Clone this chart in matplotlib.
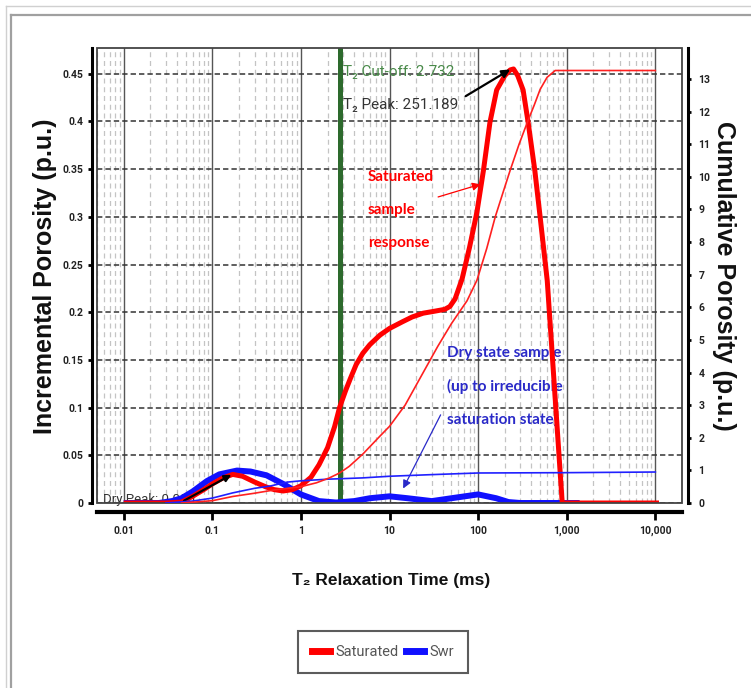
import matplotlib

matplotlib.use("Agg")
import matplotlib.pyplot as plt
from matplotlib.lines import Line2D
from matplotlib.patches import Rectangle
from matplotlib.ticker import FixedLocator, NullFormatter

# ---- data ----
sat_t = [0.01, 0.02, 0.03, 0.045, 0.06, 0.08, 0.1, 0.13, 0.17, 0.22, 0.3, 0.4,
         0.5, 0.63, 0.8, 1.0, 1.3, 1.6, 2.0, 2.4, 2.73, 3.2, 3.6, 4.2, 5, 6,
         7.8, 10, 14, 18, 24, 32, 42, 48, 55, 66, 80, 97, 115, 136, 162, 200,
         230, 251, 280, 322, 367, 436, 501, 603, 890, 1000, 10000, 11000]
sat_inc = [0.0, 0.0, 0.0, 0.001, 0.007, 0.014, 0.02, 0.026, 0.030, 0.028, 0.022,
           0.017, 0.014, 0.0126, 0.014, 0.018, 0.027, 0.040, 0.058, 0.08, 0.10,
           0.118, 0.13, 0.145, 0.157, 0.166, 0.176, 0.183, 0.19, 0.195, 0.199,
           0.201, 0.203, 0.206, 0.214, 0.235, 0.268, 0.305, 0.349, 0.399, 0.433,
           0.448, 0.454, 0.455, 0.448, 0.433, 0.399, 0.349, 0.30, 0.233, 0.0,
           0.0, 0.0, 0.0]

sat_cum_t = [0.045, 0.1, 0.17, 0.3, 0.5, 1, 1.5, 2.1, 2.73, 3.5, 5, 7.8, 10, 15,
             24, 35, 50, 75, 97, 125, 156, 190, 230, 290, 358, 430, 501, 600,
             741, 10000]
sat_cum = [0.0, 0.07, 0.2, 0.3, 0.4, 0.5, 0.62, 0.77, 0.92, 1.12, 1.5, 2.05,
           2.35, 3.0, 4.0, 4.8, 5.5, 6.2, 6.83, 7.8, 8.77, 9.5, 10.2, 11.0,
           11.66, 12.2, 12.68, 13.05, 13.26, 13.26]

swr_t = [0.01, 0.025, 0.035, 0.045, 0.06, 0.087, 0.12, 0.19, 0.27, 0.41, 0.63,
         1.0, 1.6, 2.5, 4, 6, 10, 16, 30, 50, 100, 160, 220, 300, 1400]
swr_inc = [0.0, 0.0, 0.002, 0.005, 0.012, 0.023, 0.03, 0.034, 0.033, 0.029,
           0.02, 0.009, 0.002, 0.0005, 0.002, 0.005, 0.007, 0.005, 0.002, 0.005,
           0.009, 0.005, 0.001, 0.0, 0.0]

swr_cum_t = [0.03, 0.06, 0.1, 0.17, 0.3, 0.45, 0.7, 1, 2, 5, 10, 30, 100, 1000,
             10000]
swr_cum = [0.0, 0.06, 0.15, 0.31, 0.45, 0.52, 0.64, 0.68, 0.73, 0.77, 0.82,
           0.87, 0.92, 0.93, 0.95]

t2_cutoff = 2.732
t2_peak = 251.189
x_ticks = [0.01, 0.1, 1, 10, 100, 1000, 10000]
x_labels = ["0.01", "0.1", "1", "10", "100", "1,000", "10,000"]
y_ticks = [0, 0.05, 0.1, 0.15, 0.2, 0.25, 0.3, 0.35, 0.4, 0.45]
y_labels = ["0", "0.05", "0.1", "0.15", "0.2", "0.25", "0.3", "0.35", "0.4", "0.45"]
y2_ticks = list(range(0, 14))

NARROW = ["Roboto", "DejaVu Sans"]
HUMAN = ["Lato", "DejaVu Sans"]
ARIAL = ["Liberation Sans", "DejaVu Sans"]

W, H = 751.0, 688.0
fig = plt.figure(figsize=(7.51, 6.88), dpi=100)
ax = fig.add_axes([97 / W, 1 - 503 / H, 585 / W, 455 / H])
ax.set_xscale("log")
ax.set_xlim(0.005, 20000)
ax.set_ylim(0, 0.477)

# grid
ax.xaxis.set_minor_locator(FixedLocator(
    [m * 10.0 ** e for e in range(-3, 5) for m in range(2, 10)]))
ax.xaxis.set_minor_formatter(NullFormatter())
ax.grid(which="minor", axis="x", color="#c4c4c4", lw=0.9, ls=(0, (4, 3)))
ax.grid(which="major", axis="x", color="#555555", lw=1.0, ls="-")
ax.grid(which="major", axis="y", color="#333333", lw=1.1, ls=(0, (3.5, 2)))
ax.set_axisbelow(True)

ax.add_patch(Rectangle((0, 0), 1, 1, transform=ax.transAxes, fill=False,
                       ec="#444444", lw=1.3, zorder=6, clip_on=False))

ax.axvline(t2_cutoff, color="#2d6a2d", lw=3.6, zorder=2)

ax.text(0.0058, 0.0, "Dry Peak: 0.000", fontsize=9.5, color="#333333",
        family=NARROW, va="baseline", zorder=1)

ax.plot(swr_t, swr_inc, color="#1010ff", lw=4.3, solid_capstyle="butt", zorder=3)
ax.plot(sat_t, sat_inc, color="#ff0000", lw=3.6, solid_capstyle="butt", zorder=4)

# annotations
ax.annotate("", xy=(0.175, 0.031), xytext=(0.045, 0.001),
            arrowprops=dict(arrowstyle="-|>", color="black", lw=1.6,
                            mutation_scale=10), zorder=7)
ax.text(3.0, 0.452, "T\u2082 Cut-off: 2.732", fontsize=11, color="#4a8a4a",
        family=NARROW, va="center")
ax.text(2.95, 0.417, "T\u2082 Peak: 251.189", fontsize=11, color="#333333",
        family=NARROW, va="center")
ax.annotate("", xy=(245, 0.456), xytext=(68, 0.425),
            arrowprops=dict(arrowstyle="-|>", color="black", lw=1.6,
                            mutation_scale=12), zorder=7)

for i, s in enumerate(["Saturated", "sample", "response"]):
    ax.text(5.7, 0.342 - i * 0.0345, s, fontsize=11, color="#ff0000",
            family=HUMAN, fontweight="bold", va="center")
ax.annotate("", xy=(114, 0.335), xytext=(33, 0.32),
            arrowprops=dict(arrowstyle="-|>", color="#ff0000", lw=0.9,
                            mutation_scale=12), zorder=7)

for i, s in enumerate(["Dry state sample", "(up to irreducible",
                       "saturation state)"]):
    ax.text(44.7, 0.157 - i * 0.0345, s, fontsize=11, color="#2a2ac8",
            family=HUMAN, fontweight="bold", va="center")
ax.annotate("", xy=(13.8, 0.0126), xytext=(39, 0.095),
            arrowprops=dict(arrowstyle="-|>", color="#2a2ac8", lw=0.9,
                            mutation_scale=12), zorder=7)

# axes styling
ax.spines["top"].set_visible(False)
ax.spines["right"].set_visible(False)
ax.spines["left"].set_position(("outward", 3.6))
ax.spines["left"].set_linewidth(2.2)
ax.spines["bottom"].set_position(("outward", 6.5))
ax.spines["bottom"].set_linewidth(3.0)
ax.set_xticks(x_ticks)
ax.set_xticklabels(x_labels)
ax.set_yticks(y_ticks)
ax.set_yticklabels(y_labels)
ax.tick_params(axis="x", which="major", length=6, width=2, pad=4)
ax.tick_params(axis="x", which="minor", length=0)
ax.tick_params(axis="y", length=3, width=2, pad=3)
for lab in ax.get_xticklabels() + ax.get_yticklabels():
    lab.set_family(NARROW)
    lab.set_fontweight("bold")
    lab.set_fontsize(7.5)
    lab.set_color("#222222")

ax2 = ax.twinx()
ax2.set_ylim(0, 13.95)
ax2.plot(swr_cum_t, swr_cum, color="#2020ff", lw=1.2, zorder=3)
ax2.plot(sat_cum_t, sat_cum, color="#ff2020", lw=1.2, zorder=3)
for sp in ["top", "left", "bottom"]:
    ax2.spines[sp].set_visible(False)
ax2.spines["right"].set_position(("outward", 4.3))
ax2.spines["right"].set_linewidth(2.2)
ax2.set_yticks(y2_ticks)
ax2.tick_params(axis="y", length=2.5, width=2, pad=5)
for lab in ax2.get_yticklabels():
    lab.set_family(NARROW)
    lab.set_fontweight("bold")
    lab.set_fontsize(7.5)
    lab.set_color("#222222")

# axis titles
fig.text(391 / W, 1 - 580 / H, "T\u2082 Relaxation Time (ms)", fontsize=12.5,
         fontweight="bold", family=ARIAL, ha="center", va="center",
         color="#111111")
fig.text(45 / W, 1 - 276 / H, "Incremental Porosity (p.u.)", fontsize=18,
         fontweight="bold", family=ARIAL, ha="center", va="center",
         rotation=90, color="#111111")
fig.text(724 / W, 1 - 276 / H, "Cumulative Porosity (p.u.)", fontsize=18,
         fontweight="bold", family=ARIAL, ha="center", va="center",
         rotation=-90, color="#111111")

# legend
handles = [Line2D([], [], color="#ff0000", lw=5),
           Line2D([], [], color="#1010ff", lw=5)]
leg = fig.legend(handles, ["Saturated", "Swr"], loc="center",
                 bbox_to_anchor=(383 / W, 1 - 652 / H), ncol=2,
                 fancybox=False, edgecolor="#333333", handlelength=1.25,
                 columnspacing=0.55, handletextpad=0.35, borderpad=0.95,
                 borderaxespad=0, prop=dict(family=NARROW, size=10.5))
leg.get_frame().set_linewidth(1.5)
for t in leg.get_texts():
    t.set_color("#555555")

# screenshot frame lines
fig.add_artist(Line2D([6 / W, 6 / W], [0, 1 - 6 / H], color="#d0d0d0", lw=1))
fig.add_artist(Line2D([6 / W, 1], [1 - 6 / H, 1 - 6 / H], color="#d0d0d0", lw=1))
fig.add_artist(Line2D([11 / W, 11 / W], [0, 1 - 15 / H], color="#a0a0a0", lw=1.6))
fig.add_artist(Line2D([11 / W, 1], [1 - 15 / H, 1 - 15 / H], color="#a0a0a0", lw=1.6))

fig.savefig("out.png", dpi=100)
